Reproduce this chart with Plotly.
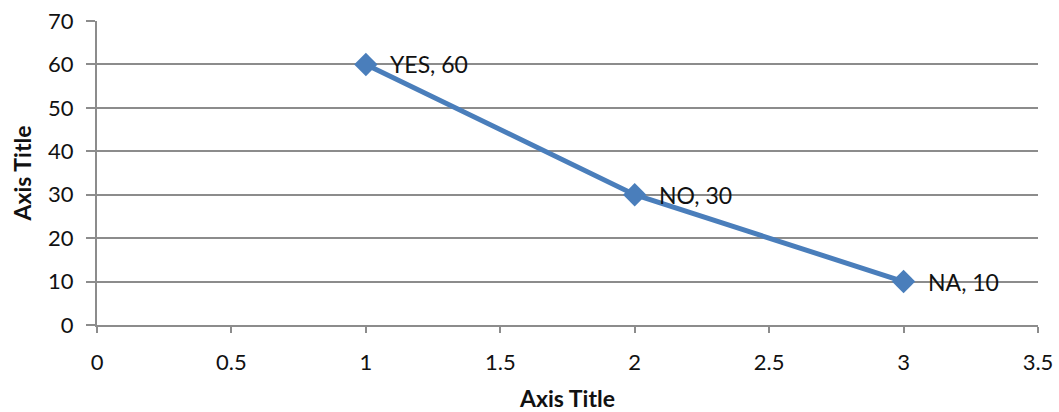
import plotly.graph_objects as go

x_vals = [1, 2, 3]
y_vals = [60, 30, 10]
labels = ["YES", "NO", "NA"]
x_ticks = [0, 0.5, 1, 1.5, 2, 2.5, 3, 3.5]
x_tick_text = ["0", "0.5", "1", "1.5", "2", "2.5", "3", "3.5"]
y_ticks = [0, 10, 20, 30, 40, 50, 60, 70]

texts = [f"{l}, {v}" for l, v in zip(labels, y_vals)]

FONT = "Lato, Carlito, Calibri, 'Open Sans', sans-serif"
GRID = "#8c8c8c"
FS = 22

fig = go.Figure()
fig.add_trace(go.Scatter(
    x=x_vals, y=y_vals, mode="lines+markers",
    line=dict(color="#4A7EBB", width=5),
    marker=dict(symbol="diamond", size=18, color="#4A7EBB"),
    showlegend=False, cliponaxis=False,
))
for xv, yv, t in zip(x_vals, y_vals, texts):
    fig.add_annotation(x=xv, y=yv, text=t, showarrow=False,
                       xanchor="left", yanchor="middle", xshift=22,
                       font=dict(family=FONT, size=23, color="#111111"))

fig.update_layout(
    width=1059, height=412,
    margin=dict(l=97, r=21, t=21, b=87),
    paper_bgcolor="white", plot_bgcolor="white",
    font=dict(family=FONT, size=FS, color="#111111"),
)
fig.update_xaxes(
    range=[0, 3.5], tickvals=x_ticks, ticktext=x_tick_text,
    showgrid=False, zeroline=False, automargin=False,
    showline=True, linecolor=GRID, linewidth=2,
    ticks="outside", ticklen=6, tickcolor=GRID, tickwidth=1.5,
    ticklabelstandoff=11,
    tickfont=dict(family=FONT, size=FS),
    title=dict(text="<b>Axis Title</b>", font=dict(family=FONT, size=23), standoff=17),
)
fig.update_yaxes(
    range=[0, 70], tickvals=y_ticks,
    showgrid=True, gridcolor=GRID, gridwidth=1.5, zeroline=False, automargin=False,
    showline=True, linecolor=GRID, linewidth=2,
    ticks="outside", ticklen=9, tickcolor=GRID, tickwidth=1.5,
    ticklabelstandoff=8,
    tickfont=dict(family=FONT, size=FS),
    title=dict(text="<b>Axis Title</b>", font=dict(family=FONT, size=23), standoff=10),
)

fig.write_html("out.html", config={"displayModeBar": False},
               post_script="document.body.style.margin='0';")
